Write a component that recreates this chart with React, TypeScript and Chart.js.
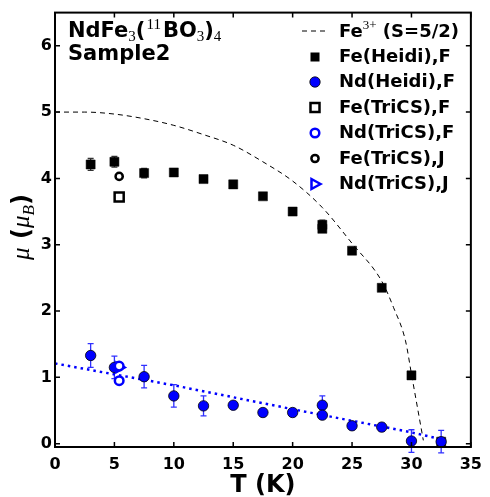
import React, { useEffect, useRef } from "react";
import { Chart, registerables } from "chart.js";
Chart.register(...registerables);

// ---- data ----
const xTicks = [0, 5, 10, 15, 20, 25, 30, 35];
const yTicks = [0, 1, 2, 3, 4, 5, 6];

const feHeidiT = [3, 5, 7.5, 10, 12.5, 15, 17.5, 20, 22.5, 22.5, 25, 27.5, 30, 32.5];
const feHeidiMu = [4.21, 4.25, 4.08, 4.09, 3.99, 3.91, 3.73, 3.5, 3.3, 3.24, 2.91, 2.35, 1.03, 0.03];
const feHeidiErr = [0.09, 0.08, 0.07, 0.03, 0.03, 0.03, 0.03, 0.03, 0.07, 0.03, 0.03, 0.03, 0.03, 0.03];

const ndHeidiT = [3, 5, 7.5, 10, 12.5, 15, 17.5, 20, 22.5, 22.5, 25, 27.5, 30, 32.5];
const ndHeidiMu = [1.33, 1.15, 1.01, 0.72, 0.57, 0.58, 0.47, 0.47, 0.58, 0.43, 0.27, 0.25, 0.04, 0.03];
const ndHeidiErr = [0.18, 0.17, 0.17, 0.17, 0.15, 0.02, 0.02, 0.02, 0.14, 0.02, 0.02, 0.06, 0.17, 0.17];

const feTricsFT = [5.4];
const feTricsFMu = [3.72];
const ndTricsFT = [5.4, 5.4];
const ndTricsFMu = [1.17, 0.95];
const feTricsJT = [5.4];
const feTricsJMu = [4.03];
const ndTricsJT = [5.4];
const ndTricsJMu = [1.15];

const brillT = [0, 2.5, 5, 7.5, 10, 12.5, 15, 17.5, 20, 22.5, 25, 27.5, 28.5, 29.5, 30, 30.5, 31];
const brillMu = [5.0, 5.0, 4.97, 4.9, 4.8, 4.66, 4.5, 4.25, 3.96, 3.56, 3.02, 2.45, 2.05, 1.55, 1.05, 0.55, 0.05];

const ndLineT = [0, 10, 20, 30, 32.2];
const ndLineMu = [1.21, 0.88, 0.52, 0.17, 0.08];

const legendLabels = ["Fe(Heidi),F", "Nd(Heidi),F", "Fe(TriCS),F", "Nd(TriCS),F", "Fe(TriCS),J", "Nd(TriCS),J"];

const BLUE = "#0000ff";
const SANS = '"DejaVu Sans"';
const SERIF = '"Liberation Serif"';

const pts = (xs: number[], ys: number[]) => xs.map((x, i) => ({ x, y: ys[i] }));

type Seg = { t: string; font: string; dy?: number; gap?: number };
function richWidth(ctx: CanvasRenderingContext2D, segs: Seg[]) {
  let w = 0;
  for (const s of segs) {
    ctx.font = s.font;
    w += ctx.measureText(s.t).width + (s.gap || 0);
  }
  return w;
}
function drawRich(ctx: CanvasRenderingContext2D, x: number, y: number, segs: Seg[]) {
  let cx = x;
  for (const s of segs) {
    ctx.font = s.font;
    ctx.fillText(s.t, cx, y + (s.dy || 0));
    cx += ctx.measureText(s.t).width + (s.gap || 0);
  }
}

function marker(ctx: CanvasRenderingContext2D, kind: number, x: number, y: number) {
  ctx.save();
  ctx.lineJoin = "miter";
  if (kind === 0) {
    ctx.fillStyle = "#000";
    ctx.fillRect(x - 4.5, y - 4.5, 9, 9);
  } else if (kind === 1) {
    ctx.beginPath();
    ctx.arc(x, y, 5.2, 0, Math.PI * 2);
    ctx.fillStyle = BLUE;
    ctx.fill();
    ctx.lineWidth = 0.8;
    ctx.strokeStyle = "#000";
    ctx.stroke();
  } else if (kind === 2) {
    ctx.lineWidth = 2.5;
    ctx.strokeStyle = "#000";
    ctx.fillStyle = "#fff";
    ctx.fillRect(x - 4.5, y - 4.5, 9, 9);
    ctx.strokeRect(x - 4.5, y - 4.5, 9, 9);
  } else if (kind === 3) {
    ctx.beginPath();
    ctx.arc(x, y, 4.3, 0, Math.PI * 2);
    ctx.fillStyle = "#fff";
    ctx.fill();
    ctx.lineWidth = 2.5;
    ctx.strokeStyle = BLUE;
    ctx.stroke();
  } else if (kind === 4) {
    ctx.beginPath();
    ctx.arc(x, y, 3.6, 0, Math.PI * 2);
    ctx.fillStyle = "#fff";
    ctx.fill();
    ctx.lineWidth = 2.5;
    ctx.strokeStyle = "#000";
    ctx.stroke();
  } else {
    ctx.beginPath();
    ctx.moveTo(x + 5.5, y);
    ctx.lineTo(x - 3.5, y - 5);
    ctx.lineTo(x - 3.5, y + 5);
    ctx.closePath();
    ctx.fillStyle = "#fff";
    ctx.fill();
    ctx.lineWidth = 2.5;
    ctx.strokeStyle = BLUE;
    ctx.stroke();
  }
  ctx.restore();
}

const overlay = {
  id: "overlay",
  beforeDatasetsDraw(chart: any) {
    const { ctx, scales } = chart;
    const xs = scales.x;
    const ys = scales.y;
    const drawErr = (ts: number[], ms: number[], es: number[], color: string) => {
      ctx.save();
      ctx.strokeStyle = color;
      ctx.lineWidth = 1.3;
      ts.forEach((t, i) => {
        const px = xs.getPixelForValue(t);
        const y1 = ys.getPixelForValue(ms[i] + es[i]);
        const y2 = ys.getPixelForValue(ms[i] - es[i]);
        ctx.beginPath();
        ctx.moveTo(px, y1);
        ctx.lineTo(px, y2);
        ctx.moveTo(px - 3, y1);
        ctx.lineTo(px + 3, y1);
        ctx.moveTo(px - 3, y2);
        ctx.lineTo(px + 3, y2);
        ctx.stroke();
      });
      ctx.restore();
    };
    drawErr(feHeidiT, feHeidiMu, feHeidiErr, "#333");
    drawErr(ndHeidiT, ndHeidiMu, ndHeidiErr, "#3030ff");
  },
  afterDraw(chart: any) {
    const { ctx, chartArea: a, scales } = chart;
    const xs = scales.x;
    const ys = scales.y;
    ctx.save();
    // inward ticks
    ctx.strokeStyle = "#000";
    ctx.lineWidth = 1.5;
    ctx.beginPath();
    xTicks.forEach((v) => {
      const px = xs.getPixelForValue(v);
      ctx.moveTo(px, a.bottom);
      ctx.lineTo(px, a.bottom - 5);
      ctx.moveTo(px, a.top);
      ctx.lineTo(px, a.top + 5);
    });
    yTicks.forEach((v) => {
      const py = ys.getPixelForValue(v);
      ctx.moveTo(a.left, py);
      ctx.lineTo(a.left + 5, py);
      ctx.moveTo(a.right, py);
      ctx.lineTo(a.right - 5, py);
    });
    ctx.stroke();
    // frame
    ctx.lineWidth = 2;
    ctx.strokeRect(a.left, a.top, a.right - a.left, a.bottom - a.top);

    ctx.fillStyle = "#000";
    ctx.textAlign = "left";
    ctx.textBaseline = "alphabetic";
    // title
    const B21 = `bold 21px ${SANS}`;
    const S15 = `15px ${SERIF}`;
    drawRich(ctx, 68, 37, [
      { t: "NdFe", font: B21 },
      { t: "3", font: S15, dy: 4 },
      { t: "(", font: B21, gap: 1 },
      { t: "11", font: S15, dy: -8, gap: 2 },
      { t: "BO", font: B21 },
      { t: "3", font: S15, dy: 4 },
      { t: ")", font: B21 },
      { t: "4", font: S15, dy: 4 },
    ]);
    ctx.font = B21;
    ctx.fillText("Sample2", 68, 60);

    // legend
    const B18 = `bold 18px ${SANS}`;
    const rows = [31, 57, 82, 107.5, 133, 158.5, 184];
    ctx.save();
    ctx.strokeStyle = "#000";
    ctx.lineWidth = 1;
    ctx.setLineDash([5, 4]);
    ctx.beginPath();
    ctx.moveTo(302, rows[0]);
    ctx.lineTo(328, rows[0]);
    ctx.stroke();
    ctx.restore();
    drawRich(ctx, 339, rows[0] + 6, [
      { t: "Fe", font: B18 },
      { t: "3+", font: `13px ${SERIF}`, dy: -8 },
      { t: " (S=5/2)", font: B18 },
    ]);
    legendLabels.forEach((lab, i) => {
      marker(ctx, i, 315, rows[i + 1]);
      ctx.fillStyle = "#000";
      ctx.font = B18;
      ctx.fillText(lab, 339, rows[i + 1] + 5);
    });

    // x title
    ctx.font = `bold 24px ${SANS}`;
    ctx.textAlign = "center";
    ctx.fillText("T (K)", (a.left + a.right) / 2, 492);

    // y title
    ctx.textAlign = "left";
    const ySegs: Seg[] = [
      { t: "μ", font: `italic 25px ${SERIF}` },
      { t: " (", font: `bold 24px ${SANS}` },
      { t: "μ", font: `italic 25px ${SERIF}` },
      { t: "B", font: `italic 17px ${SERIF}`, dy: 5 },
      { t: ")", font: `bold 24px ${SANS}` },
    ];
    const w = richWidth(ctx, ySegs);
    ctx.translate(21, 227);
    ctx.rotate(-Math.PI / 2);
    drawRich(ctx, -w / 2, 8, ySegs);
    ctx.restore();
  },
};

export default function App() {
  const ref = useRef<HTMLCanvasElement | null>(null);
  useEffect(() => {
    document.body.style.margin = "0";
    const canvas = ref.current!;
    const chart = new Chart(canvas, {
      type: "scatter",
      data: {
        datasets: [
          {
            type: "line",
            data: pts(brillT, brillMu),
            borderColor: "#000",
            borderWidth: 1,
            borderDash: [5, 4],
            pointRadius: 0,
            showLine: true,
            cubicInterpolationMode: "monotone",
            order: 10,
          } as any,
          {
            type: "line",
            data: pts(ndLineT, ndLineMu),
            borderColor: BLUE,
            borderWidth: 2.5,
            borderDash: [2.5, 4],
            pointRadius: 0,
            showLine: true,
            order: 9,
          } as any,
          {
            data: pts(feHeidiT, feHeidiMu),
            pointStyle: "rect",
            pointRadius: 6.4,
            backgroundColor: "#000",
            borderColor: "#000",
            borderWidth: 0.5,
            order: 6,
          },
          {
            data: pts(ndHeidiT, ndHeidiMu),
            pointStyle: "circle",
            pointRadius: 5.2,
            backgroundColor: BLUE,
            borderColor: "#000",
            borderWidth: 0.8,
            order: 5,
          },
          {
            data: pts(ndTricsJT, ndTricsJMu),
            pointStyle: "triangle",
            rotation: 90,
            pointRadius: 5.5,
            backgroundColor: "#fff",
            borderColor: BLUE,
            borderWidth: 2.5,
            order: 4,
          },
          {
            data: pts(feTricsFT, feTricsFMu),
            pointStyle: "rect",
            pointRadius: 6.4,
            backgroundColor: "#fff",
            borderColor: "#000",
            borderWidth: 2.5,
            order: 3,
          },
          {
            data: pts(ndTricsFT, ndTricsFMu),
            pointStyle: "circle",
            pointRadius: 4.3,
            backgroundColor: "#fff",
            borderColor: BLUE,
            borderWidth: 2.5,
            order: 2,
          },
          {
            data: pts(feTricsJT, feTricsJMu),
            pointStyle: "circle",
            pointRadius: 3.6,
            backgroundColor: "#fff",
            borderColor: "#000",
            borderWidth: 2.5,
            order: 1,
          },
        ],
      },
      options: {
        animation: false,
        responsive: false,
        events: [],
        layout: { padding: { top: 11, right: 14, left: 0, bottom: 0 } },
        plugins: { legend: { display: false }, tooltip: { enabled: false } },
        scales: {
          x: {
            type: "linear",
            min: 0,
            max: 35,
            afterBuildTicks: (s: any) => {
              s.ticks = xTicks.map((v) => ({ value: v }));
            },
            afterFit: (s: any) => {
              s.height = 50;
            },
            grid: { display: false, drawTicks: false },
            border: { display: false },
            ticks: {
              color: "#000",
              padding: 8,
              maxRotation: 0,
              autoSkip: false,
              font: { family: "DejaVu Sans", size: 16, weight: "bold" },
            },
          },
          y: {
            type: "linear",
            min: -0.05,
            max: 6.5,
            afterBuildTicks: (s: any) => {
              s.ticks = yTicks.map((v) => ({ value: v }));
            },
            afterFit: (s: any) => {
              s.width = 55;
            },
            grid: { display: false, drawTicks: false },
            border: { display: false },
            ticks: {
              color: "#000",
              padding: 3,
              autoSkip: false,
              font: { family: "DejaVu Sans", size: 16, weight: "bold" },
            },
          },
        },
      },
      plugins: [overlay],
    });
    return () => chart.destroy();
  }, []);
  return <canvas ref={ref} width={490} height={497} style={{ display: "block", width: 490, height: 497 }} />;
}
